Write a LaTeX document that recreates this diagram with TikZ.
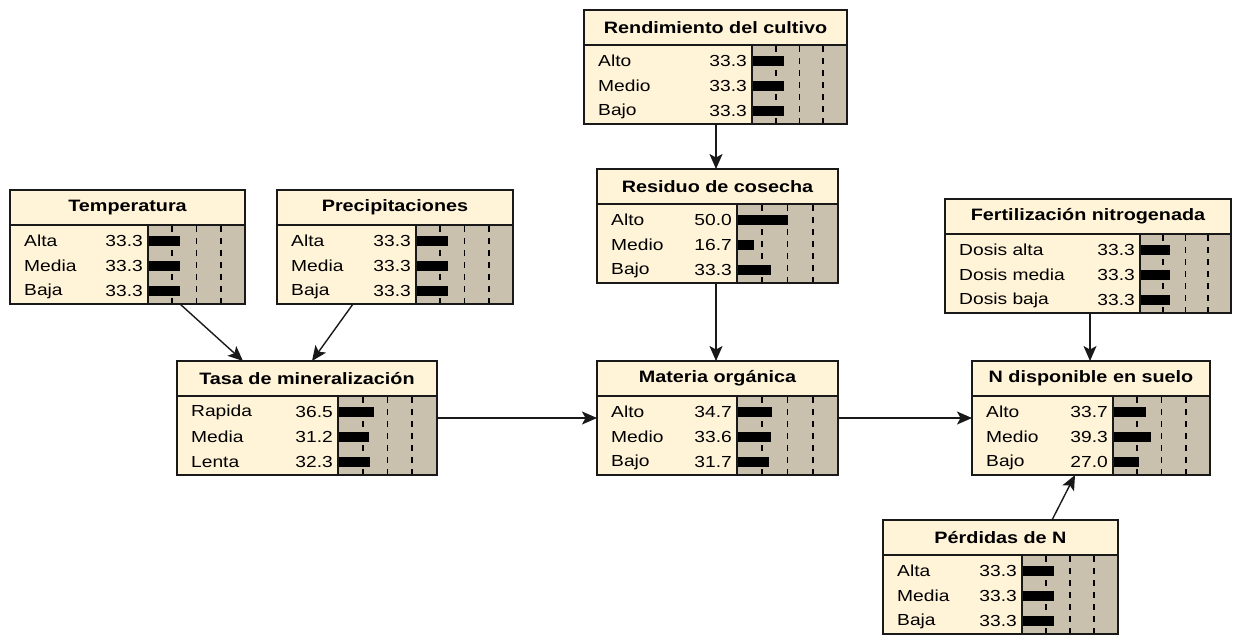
\documentclass[tikz,border=0pt]{standalone}
\usepackage{fontspec}
\setmainfont{Liberation Sans}[FakeStretch=1.2]
\usetikzlibrary{arrows.meta,calc}
\definecolor{cream}{RGB}{255,243,216}
\definecolor{tanbg}{RGB}{201,193,173}
\definecolor{edgec}{RGB}{25,25,25}
\tikzset{
  bnbox/.style={draw=edgec, line width=1.6pt, fill=cream, rectangle, inner sep=0pt, outer sep=0pt, anchor=north west},
  bntitle/.style={font=\bfseries\fontsize{16.5}{18}\selectfont, inner sep=0pt, anchor=center},
  bnlabel/.style={font=\fontsize{16}{18}\selectfont, inner sep=0pt, anchor=west},
  bnval/.style={font=\fontsize{16}{18}\selectfont, inner sep=0pt, anchor=east},
  bngrid/.style={line width=1.8pt, dash pattern=on 6pt off 6pt},
  bnsep/.style={draw=edgec, line width=1.6pt},
  link/.style={line width=1.4pt, draw=edgec, -{Stealth[length=15pt,width=13pt,inset=3.5pt]}},
}
% #1 id, #2 x, #3 y(top), #4 width, #5 bar area width, #6 title, #7 rows label/value
\newcommand\bnet[7]{%
  \node[bnbox, minimum width=#4pt, minimum height=114pt] (#1) at (#2,#3) {};
  \pgfmathsetmacro\bxs{#2+#4-#5}
  \fill[tanbg] (\bxs,#3+35) rectangle (#2+#4,#3+114);
  \foreach \fr in {0.25,0.5,0.75}{
    \draw[bngrid] (\bxs+\fr*#5,#3+36) -- (\bxs+\fr*#5,#3+114);
  }
  \node[bntitle] (#1-t) at (#2+#4/2,#3+17.5) {#6};
  \foreach \lab/\val [count=\i] in {#7}{
    \pgfmathsetmacro\ry{#3+51+(\i-1)*25}
    \pgfmathsetmacro\bxe{\bxs+\val*#5/100}
    \fill[black] (\bxs,\ry-5) rectangle (\bxe,\ry+5);
    \node[bnlabel] (#1-l\i) at (#2+14,\ry) {\lab};
    \node[bnval] (#1-v\i) at (\bxs-5,\ry) {\val};
  }
  \draw[bnsep] (#2,#3+35) -- (#2+#4,#3+35);
  \draw[bnsep] (\bxs,#3+35) -- (\bxs,#3+114);
  \draw[bnsep] (#1.north west) rectangle (#1.south east);
}
\begin{document}
\begin{tikzpicture}[x=1pt,y=-1pt]
  \useasboundingbox (0,0) rectangle (1234,635);
  \bnet{temp}{10}{190}{235}{97}{Temperatura}{Alta/33.3,Media/33.3,Baja/33.3}
  \bnet{prec}{277}{190}{236}{97}{Precipitaciones}{Alta/33.3,Media/33.3,Baja/33.3}
  \bnet{tasa}{177}{361}{260}{99}{Tasa de mineralización}{Rapida/36.5,Media/31.2,Lenta/32.3}
  \bnet{rend}{584}{10}{263}{95}{Rendimiento del cultivo}{Alto/33.3,Medio/33.3,Bajo/33.3}
  \bnet{resid}{597}{169}{241}{101}{Residuo de cosecha}{Alto/50.0,Medio/16.7,Bajo/33.3}
  \bnet{mat}{597}{361}{241}{101}{Materia orgánica}{Alto/34.7,Medio/33.6,Bajo/31.7}
  \bnet{fert}{945}{199}{286}{91}{Fertilización nitrogenada}{Dosis alta/33.3,Dosis media/33.3,Dosis baja/33.3}
  \bnet{ndisp}{972}{361}{238}{97}{N disponible en suelo}{Alto/33.7,Medio/39.3,Bajo/27.0}
  \bnet{perd}{883}{520}{235}{96}{Pérdidas de N}{Alta/33.3,Media/33.3,Baja/33.3}

  \draw[link] ($(temp.south west)+(170,0)$) -- ($(tasa.north west)+(66,0)$);
  \draw[link] ($(prec.south west)+(76,0)$) -- ($(tasa.north west)+(135,0)$);
  \draw[link] ($(rend.south west)+(132,0)$) -- ($(resid.north west)+(119,0)$);
  \draw[link] ($(resid.south west)+(119,0)$) -- ($(mat.north west)+(119,0)$);
  \draw[link] (tasa.east) -- (mat.west);
  \draw[link] (mat.east) -- (ndisp.west);
  \draw[link] ($(fert.south west)+(145,0)$) -- ($(ndisp.north west)+(118,0)$);
  \draw[link] ($(perd.north west)+(169,0)$) -- ($(ndisp.south west)+(103,0)$);
\end{tikzpicture}
\end{document}
